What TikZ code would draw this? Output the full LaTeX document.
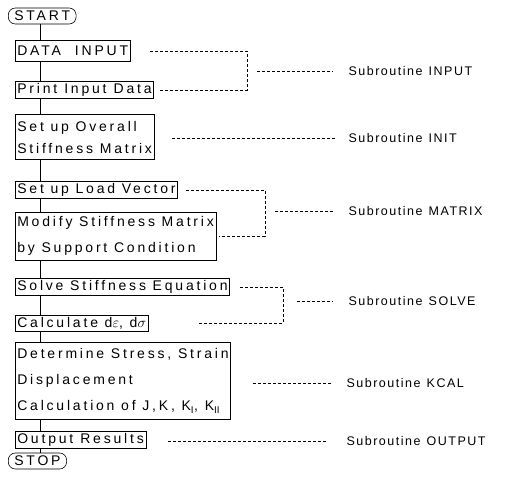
\documentclass[tikz,border=0pt]{standalone}
\usepackage{fontspec}
\setmainfont{Liberation Sans}
\newfontfamily\boxfont[LetterSpace=20]{Liberation Sans}
\newfontfamily\subfont[LetterSpace=12]{Liberation Sans}
\usetikzlibrary{calc}

\begin{document}
\begin{tikzpicture}[x=1pt,y=-1pt,
      bx/.style={draw,line width=0.6pt,anchor=west,inner sep=2pt,align=left,
                 font=\boxfont\fontsize{14}{22}\selectfont},
      term/.style={bx,rounded corners=7pt,inner xsep=6pt,minimum height=16pt},
      sub/.style={anchor=west,font=\subfont\fontsize{12.5}{14}\selectfont},
      dsh/.style={densely dashed,line width=0.55pt},
      ln/.style={line width=0.5pt}]
    \useasboundingbox (0,0) rectangle (507,492);
    \node[term] (start) at (8,16) {START};
    \node[bx,minimum height=21pt] (din) at (15,51) {DATA\quad INPUT};
    \node[bx,minimum height=15pt] (pin) at (15,90) {Print\enspace Input\enspace Data};
    \node[bx,minimum height=45pt] (ovr) at (15,137) {Set up Overall\\Stiffness Matrix};
    \node[bx,minimum height=13pt] (load) at (15,190) {Set up Load Vector};
    \node[bx,minimum height=48pt] (mod) at (15,236) {Modify Stiffness Matrix\\[4pt]by Support Condition};
    \node[bx,minimum height=14pt] (solve) at (15,287) {Solve Stiffness Equation};
    \node[bx,minimum height=14pt] (calc) at (15,323) {Calculate d$\varepsilon$, d$\sigma$};
    \node[bx,minimum height=77pt] (det) at (15,381) {Determine Stress, Strain\\[4pt]Displacement\\[4pt]Calculation of J,K, K$_{\mathrm{I}}$, K$_{\mathrm{II}}$};
    \node[bx,minimum height=14pt] (out) at (15,440) {Output\enspace Results};
    \node[term] (stop) at (8,461) {STOP};
    \coordinate (sp) at ([xshift=25pt]din.north west);
    \draw[ln] (sp |- start.south) -- (sp);
    \foreach \a/\b in {din/pin,pin/ovr,ovr/load,load/mod,mod/solve,solve/calc,calc/det,det/out}
      \draw[ln] ([xshift=25pt]\a.south west) -- ([xshift=25pt]\b.north west);
    \draw[ln] ([xshift=25pt]out.south west) -- (sp |- stop.north);
    \node[sub] (lin) at (345,71) {Subroutine\enspace INPUT};
    \node[sub] (lini) at (345,138) {Subroutine\enspace INIT};
    \node[sub] (lmat) at (345,211) {Subroutine\enspace MATRIX};
    \node[sub] (lsol) at (345,301) {Subroutine\enspace SOLVE};
    \node[sub] (lkc) at (343,383) {Subroutine\enspace KCAL};
    \node[sub] (lout) at (343,441) {Subroutine\enspace OUTPUT};
    \coordinate (ba) at (247,71);
    \coordinate (bm) at (265,211);
    \coordinate (bs) at (283,301);
    \draw[dsh] ([xshift=20pt]din.east) -- (ba |- din.east) -- (ba |- pin.east) -- ([xshift=5pt]pin.east);
    \draw[dsh] ([xshift=10pt]ba) -- ([xshift=-12pt]lin.west);
    \draw[dsh] ([xshift=18pt]ovr.east |- lini.west) -- ([xshift=-8pt]lini.west);
    \draw[dsh] ([xshift=8pt]load.east) -- (bm |- load.east) -- (bm |- mod.east) -- ([xshift=3pt]mod.east);
    \draw[dsh] ([xshift=10pt]bm) -- ([xshift=-12pt]lmat.west);
    \draw[dsh] ([xshift=10pt]solve.east) -- (bs |- solve.east) -- (bs |- calc.east) -- ([xshift=50pt]calc.east);
    \draw[dsh] ([xshift=14pt]bs) -- ([xshift=-12pt]lsol.west);
    \draw[dsh] ([xshift=22pt]det.east |- lkc.west) -- ([xshift=-12pt]lkc.west);
    \draw[dsh] ([xshift=22pt]out.east |- lout.west) -- ([xshift=-16pt]lout.west);
  \end{tikzpicture}
\end{document}
